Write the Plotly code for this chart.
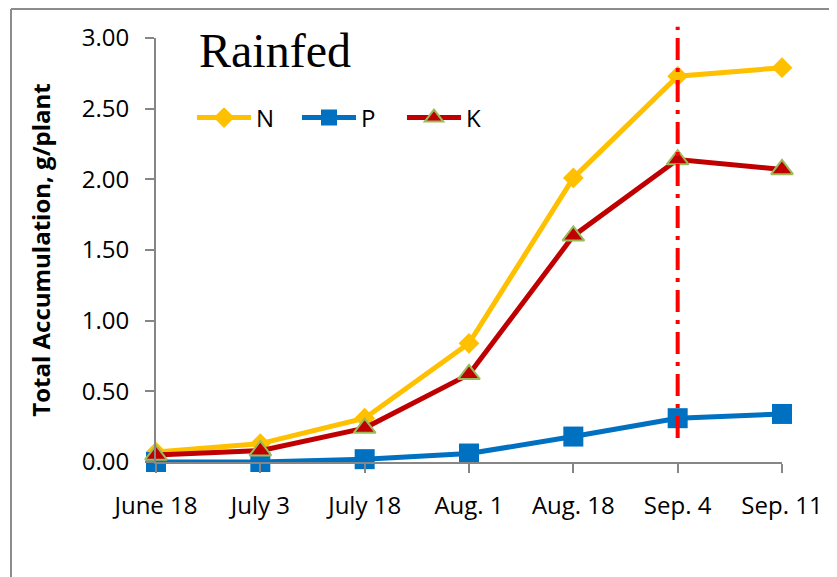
import plotly.graph_objects as go

# ---- data ----
dates = ["June 18", "July 3", "July 18", "Aug. 1", "Aug. 18", "Sep. 4", "Sep. 11"]
N_vals = [0.07, 0.13, 0.31, 0.84, 2.01, 2.73, 2.79]
P_vals = [0.00, 0.00, 0.02, 0.06, 0.18, 0.31, 0.34]
K_vals = [0.05, 0.08, 0.24, 0.62, 1.60, 2.14, 2.07]
y_ticks = [0.0, 0.5, 1.0, 1.5, 2.0, 2.5, 3.0]
y_tick_text = ["0.00", "0.50", "1.00", "1.50", "2.00", "2.50", "3.00"]
vline_date = "Sep. 4"
vline_bottom = 0.17
vline_top = 3.08
Y_MAX = 3.0

OFF = 8  # default page body margin
W, H = 837 - OFF, 577 - OFF
ML, MR, MT, MB = 156 - OFF, 55, 38 - OFF, 115
AX = "#868686"
FONT = "Open Sans"

fig = go.Figure()
fig.add_trace(go.Scatter(
    x=dates, y=N_vals, name="N", mode="lines+markers",
    line=dict(color="#FFC000", width=5),
    marker=dict(symbol="diamond", size=16, color="#FFC000"),
    cliponaxis=False))
fig.add_trace(go.Scatter(
    x=dates, y=P_vals, name="P", mode="lines+markers",
    line=dict(color="#0070C0", width=5),
    marker=dict(symbol="square", size=20, color="#0070C0"),
    cliponaxis=False))
fig.add_trace(go.Scatter(
    x=dates, y=K_vals, name="K", mode="lines+markers",
    line=dict(color="#C00000", width=5),
    marker=dict(symbol="triangle-up", size=19, color="#C00000",
                line=dict(color="#9BBB59", width=2)),
    cliponaxis=False))

plot_h = H - MT - MB
plot_w = W - ML - MR


def px_x(x):  # reference pixel x -> paper x
    return (x - OFF - ML) / plot_w


def px_y(y):  # reference pixel y -> paper y
    return 1 - (y - OFF - MT) / plot_h


shapes = [
    # vertical dash-dot marker line at Sep. 4
    dict(type="line", xref="x", yref="paper",
         x0=vline_date, x1=vline_date,
         y0=vline_bottom / Y_MAX, y1=vline_top / Y_MAX,
         line=dict(color="#FF0000", width=4, dash="22px,8px,4px,8px"),
         layer="above"),
    # chart frame (left and top edges visible)
    dict(type="line", xref="paper", yref="paper",
         x0=px_x(11), x1=px_x(11), y0=px_y(600), y1=px_y(9),
         line=dict(color="#8C8C8C", width=2)),
    dict(type="line", xref="paper", yref="paper",
         x0=px_x(11), x1=px_x(850), y0=px_y(9), y1=px_y(9),
         line=dict(color="#8C8C8C", width=2)),
]

fig.update_layout(
    width=W, height=H,
    margin=dict(l=ML, r=MR, t=MT, b=MB, autoexpand=False),
    paper_bgcolor="white", plot_bgcolor="white",
    font=dict(family=FONT, size=24, color="black"),
    showlegend=True,
    legend=dict(orientation="h", x=px_x(192), y=px_y(118),
                xanchor="left", yanchor="middle",
                font=dict(family=FONT, size=24, color="black"),
                bgcolor="rgba(0,0,0,0)", entrywidth=36, entrywidthmode="pixels",
                itemwidth=54, tracegroupgap=0),
    shapes=shapes,
    annotations=[dict(text="Rainfed", xref="paper", yref="paper",
                      x=px_x(197), y=px_y(50),
                      xanchor="left", yanchor="middle", showarrow=False,
                      font=dict(family="Liberation Serif", size=48, color="black"))],
    xaxis=dict(type="category", range=[0, len(dates) - 1],
               showline=True, linecolor=AX, linewidth=2,
               ticks="outside", ticklen=9, tickwidth=2, tickcolor=AX,
               showgrid=False, zeroline=False, ticklabelstandoff=12,
               tickfont=dict(family=FONT, size=24, color="black")),
    yaxis=dict(range=[0, Y_MAX], tickvals=y_ticks, ticktext=y_tick_text,
               showline=True, linecolor=AX, linewidth=2,
               ticks="outside", ticklen=9, tickwidth=2, tickcolor=AX,
               showgrid=False, zeroline=False, ticklabelstandoff=11,
               tickfont=dict(family=FONT, size=24, color="black"),
               title=dict(text="<b>Total Accumulation, g/plant</b>", standoff=24,
                          font=dict(family=FONT, size=24, color="black"))),
)

fig.write_html("out.html")
